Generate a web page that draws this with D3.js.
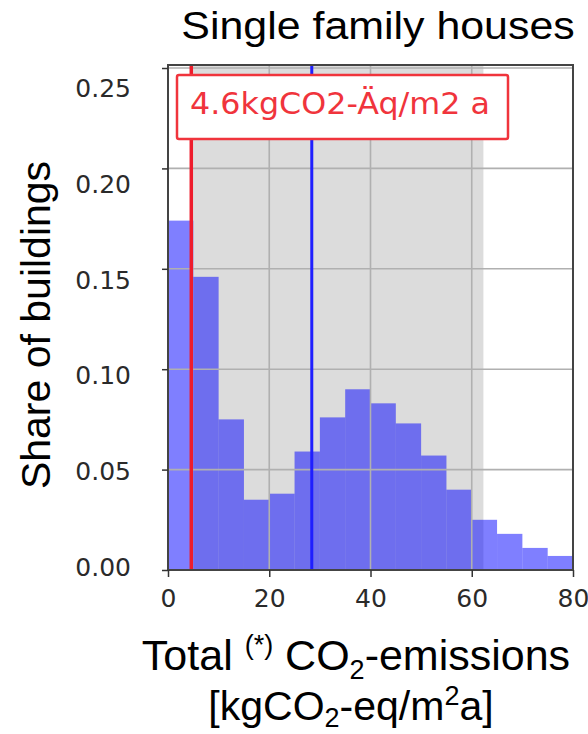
<!DOCTYPE html>
<html>
<head>
<meta charset="utf-8">
<script src="https://cdn.jsdelivr.net/npm/d3@7"></script>
<style>
  body { margin: 0; background: #fff; }
  svg { display: block; }
  .tick-label { font-family: "DejaVu Sans", sans-serif; font-size: 25px; fill: #2a2a2a; }
  .label { font-family: "Liberation Sans", Arial, sans-serif; fill: #000; }
</style>
</head>
<body>
<svg id="chart" width="588" height="734"></svg>
<script>
// histogram bins (lower edge, width 5) and share of buildings per bin
const binLo = [0, 5, 10, 15, 20, 25, 30, 35, 40, 45, 50, 55, 60, 65, 70, 75];
const binWidth = 5;
const shares = [0.174, 0.146, 0.075, 0.035, 0.038, 0.059, 0.076, 0.090,
                0.083, 0.073, 0.057, 0.040, 0.025, 0.018, 0.011, 0.007];

// marker lines and shaded range
const redValue = 4.6;
const blueValue = 28.4;
const spanRange = [4.6, 62.3];

const xTicks = [0, 20, 40, 60, 80];
const yTicks = [0, 0.05, 0.10, 0.15, 0.20, 0.25];
const legendText = "4.6kgCO2-Äq/m2 a";

const svg = d3.select("#chart");
const plot = { left: 168, right: 573, top: 65, bottom: 570 };

const x = d3.scaleLinear().domain([0, 80]).range([plot.left, plot.right]);
const y = d3.scaleLinear().domain([0, 0.2515]).range([plot.bottom, plot.top]);
// the tick labels in the source sit on a slightly compressed scale
const yLabel = d3.scaleLinear().domain([0, 0.25]).range([566.5, 87.5]);

// shaded span
svg.append("rect")
    .attr("x", x(spanRange[0])).attr("y", plot.top)
    .attr("width", x(spanRange[1]) - x(spanRange[0]))
    .attr("height", plot.bottom - plot.top)
    .attr("fill", "#dcdcdc");

// histogram bars
svg.append("g").selectAll("rect")
    .data(shares)
    .join("rect")
    .attr("x", (d, i) => x(binLo[i]))
    .attr("width", (d, i) => x(binLo[i] + binWidth) - x(binLo[i]))
    .attr("y", d => y(d))
    .attr("height", d => plot.bottom - y(d))
    .attr("fill", "blue")
    .attr("fill-opacity", 0.5);

// grid lines (drawn above the patches)
const grid = svg.append("g").attr("stroke", "#b0b0b0").attr("stroke-width", 1.6);
grid.selectAll("line.gx")
    .data(xTicks.filter(d => d > 0 && d < 80))
    .join("line")
    .attr("x1", d => x(d)).attr("x2", d => x(d))
    .attr("y1", plot.top).attr("y2", plot.bottom);
grid.selectAll("line.gy")
    .data(yTicks.filter(d => d > 0))
    .join("line")
    .attr("x1", plot.left).attr("x2", plot.right)
    .attr("y1", d => y(d)).attr("y2", d => y(d));

// vertical marker lines
svg.append("line")
    .attr("x1", x(blueValue)).attr("x2", x(blueValue))
    .attr("y1", plot.top).attr("y2", plot.bottom)
    .attr("stroke", "#1f1fff").attr("stroke-width", 3);
svg.append("line")
    .attr("x1", x(redValue)).attr("x2", x(redValue))
    .attr("y1", plot.top).attr("y2", plot.bottom)
    .attr("stroke", "#ee1c2c").attr("stroke-width", 3.5);

// frame
svg.append("rect")
    .attr("x", plot.left).attr("y", plot.top)
    .attr("width", plot.right - plot.left).attr("height", plot.bottom - plot.top)
    .attr("fill", "none").attr("stroke", "#444").attr("stroke-width", 2);

// tick marks
svg.append("g")
    .attr("transform", `translate(${plot.left},0)`)
    .call(d3.axisLeft(y).tickValues(yTicks).tickSize(6).tickFormat(""))
    .call(g => g.select(".domain").remove())
    .call(g => g.selectAll("line").attr("stroke", "#333").attr("stroke-width", 1.5));

svg.append("g")
    .attr("transform", `translate(0,${plot.bottom})`)
    .call(d3.axisBottom(x).tickValues(xTicks).tickSize(7).tickPadding(12).tickFormat(d3.format("d")))
    .call(g => g.select(".domain").remove())
    .call(g => g.selectAll("line").attr("stroke", "#333").attr("stroke-width", 1.5))
    .call(g => g.selectAll("text").attr("class", "tick-label").attr("fill", null));

// y tick labels
svg.append("g")
    .attr("transform", "translate(131,0)")
    .call(d3.axisLeft(yLabel).tickValues(yTicks).tickSize(0).tickPadding(0).tickFormat(d3.format(".2f")))
    .call(g => g.select(".domain").remove())
    .call(g => g.selectAll("text").attr("class", "tick-label").attr("fill", null).attr("dy", "0.36em"));

// legend box
const legend = svg.append("g");
legend.append("rect")
    .attr("x", 177).attr("y", 75).attr("width", 331).attr("height", 64)
    .attr("rx", 2)
    .attr("fill", "#fff").attr("stroke", "#f0343c").attr("stroke-width", 2.5);
legend.append("text")
    .attr("x", 190).attr("y", 114)
    .attr("font-family", "DejaVu Sans, sans-serif")
    .attr("font-size", 30)
    .attr("textLength", 300)
    .attr("lengthAdjust", "spacingAndGlyphs")
    .attr("fill", "#f0343c")
    .text(legendText);

// title
svg.append("text")
    .attr("class", "label")
    .attr("transform", "translate(378,39) scale(1.1,1)")
    .attr("text-anchor", "middle")
    .attr("font-size", 39)
    .text("Single family houses");

// y axis label
svg.append("text")
    .attr("class", "label")
    .attr("transform", "translate(50,325) rotate(-90)")
    .attr("text-anchor", "middle")
    .attr("font-size", 41)
    .text("Share of buildings");

// x axis label, two lines with super/subscripts
const xl1 = svg.append("text")
    .attr("class", "label")
    .attr("x", 356).attr("y", 670)
    .attr("text-anchor", "middle")
    .attr("font-size", 43);
xl1.append("tspan").text("Total ");
xl1.append("tspan").attr("font-size", 27).attr("dy", -16).text("(*)");
xl1.append("tspan").attr("dy", 16).text(" CO");
xl1.append("tspan").attr("font-size", 27).attr("dy", 9).text("2");
xl1.append("tspan").attr("dy", -9).text("-emissions");

const xl2 = svg.append("text")
    .attr("class", "label")
    .attr("x", 351).attr("y", 720)
    .attr("text-anchor", "middle")
    .attr("font-size", 41);
xl2.append("tspan").text("[kgCO");
xl2.append("tspan").attr("font-size", 27).attr("dy", 7).text("2");
xl2.append("tspan").attr("dy", -7).text("-eq/m");
xl2.append("tspan").attr("font-size", 27).attr("dy", -15).text("2");
xl2.append("tspan").attr("dy", 15).text("a]");
</script>
</body>
</html>
